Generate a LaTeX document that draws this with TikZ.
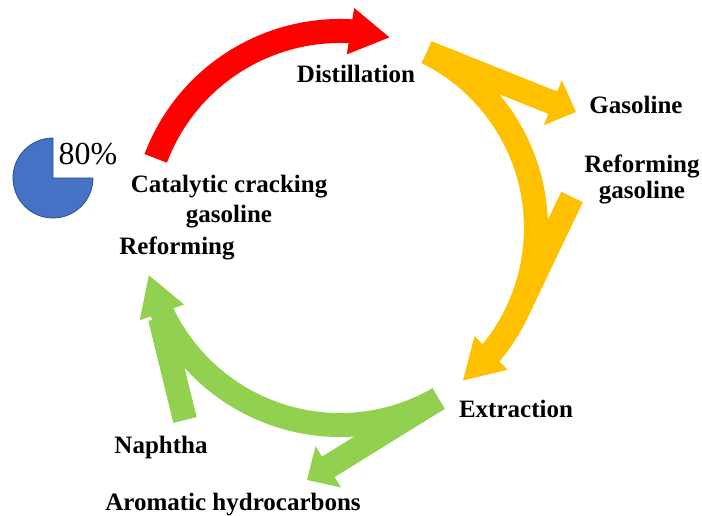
\documentclass[tikz,border=0pt]{standalone}
\usepackage{fontspec}
\setmainfont{Liberation Serif}
\usetikzlibrary{arrows.meta,bending}
\definecolor{cycred}{HTML}{FF0000}
\definecolor{cycyellow}{HTML}{FFC000}
\definecolor{cycgreen}{HTML}{92D050}
\definecolor{pieblue}{HTML}{4472C4}
\definecolor{pieedge}{HTML}{2F528F}

\begin{document}
\begin{tikzpicture}[x=1pt,y=1pt,
    band/.style={line width=24pt},
    bighead/.style={-{Triangle[length=40pt,width=44pt,flex]}},
    smallhead/.style={-{Triangle[length=25pt,width=47pt,flex]}},
    lbl/.style={font=\bfseries\fontsize{25}{30}\selectfont,inner sep=0pt}]
  \useasboundingbox (0,0) rectangle (702,515);
  \coordinate (O) at (340,287);
  \coordinate (redS) at ([shift={(159.3:197)}]O);
  \coordinate (yelS) at ([shift={(63.7:196)}]O);
  \coordinate (grnS) at ([shift={(-60:197)}]O);
  \coordinate (gasTip) at (576,403);
  \coordinate (refS) at (572,318);
  \coordinate (refE) at ([shift={(-25:196)}]O);
  \coordinate (aroTip) at (307,35);
  \coordinate (napS) at (185,95);
  \coordinate (napE) at (160,197);

  \fill[pieblue,draw=pieedge,line width=0.8pt] (53,337) -- ++(90:40)
      arc[start angle=90,end angle=360,radius=40] -- cycle;
  \node[font=\fontsize{32}{36}\selectfont,inner sep=0pt,anchor=base] (pct) at (88,350) {80\%};

  \draw[band,cycred,bighead] (redS) arc[start angle=159.3,end angle=75.3,radius=197];

  \draw[band,cycyellow,smallhead] (yelS) -- (gasTip);
  \draw[band,cycyellow] (refS) -- (refE);
  \draw[band,cycyellow,bighead] (yelS) arc[start angle=63.7,end angle=-51.3,radius=196];

  \draw[band,cycgreen,smallhead] (grnS) -- (aroTip);
  \draw[band,cycgreen] (napS) -- (napE);
  \draw[band,cycgreen,bighead] (grnS) arc[start angle=-60,end angle=-166.3,radius=197];

  \node[lbl,anchor=base] (distil) at (356,432) {Distillation};
  \node[lbl,anchor=base] (gasol) at (636,401) {Gasoline};
  \node[lbl,align=center,font=\bfseries\fontsize{25}{26}\selectfont] (refgas) at (642,336) {Reforming\\gasoline};
  \node[lbl,align=center] (catcrack) at (229,313) {Catalytic cracking\\gasoline};
  \node[lbl,anchor=base] (reform) at (177,260) {Reforming};
  \node[lbl,anchor=base] (extract) at (516,98) {Extraction};
  \node[lbl,anchor=base] (naphtha) at (161,62) {Naphtha};
  \node[lbl,anchor=base] (aromatic) at (233,5) {Aromatic hydrocarbons};
\end{tikzpicture}
\end{document}
